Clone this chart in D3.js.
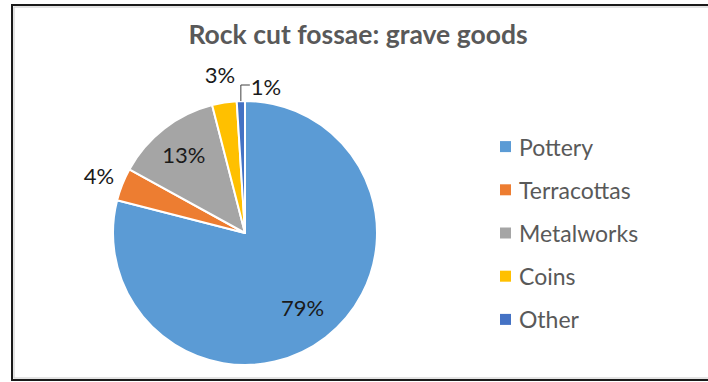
<!DOCTYPE html>
<html>
<head>
  <meta charset="utf-8">
  <style>
    body { margin: 0; background: white; font-family: Lato, "Open Sans", sans-serif; }
    svg { display: block; }
  </style>
</head>
<body>
  <svg id="chart"></svg>
  <script src="https://cdn.jsdelivr.net/npm/d3@7"></script>
  <script>
    // data
    var categories = ["Pottery", "Terracottas", "Metalworks", "Coins", "Other"];
    var shares = [79, 4, 13, 3, 1];
    var colors = ["#5B9BD5", "#ED7D31", "#A5A5A5", "#FFC000", "#4472C4"];
    var title = "Rock cut fossae: grave goods";

    var width = 708, height = 382;
    var svg = d3.select("#chart").attr("width", width).attr("height", height);

    // frame
    svg.append("rect")
      .attr("x", 12).attr("y", 5)
      .attr("width", 720).attr("height", 375)
      .attr("fill", "none").attr("stroke", "#1a1a1a").attr("stroke-width", 2);
    svg.append("rect")
      .attr("x", 14).attr("y", 7)
      .attr("width", 720).attr("height", 371)
      .attr("fill", "none").attr("stroke", "#c8c8c8").attr("stroke-width", 1);

    // title
    svg.append("text")
      .attr("x", 358).attr("y", 34)
      .attr("text-anchor", "middle")
      .attr("dominant-baseline", "central")
      .attr("font-size", 26.5).attr("font-weight", "bold")
      .attr("fill", "#595959")
      .text(title);

    var cx = 245, cy = 233, R = 132;
    var data = categories.map(function(c, i) { return { name: c, value: shares[i], color: colors[i] }; });

    var pie = d3.pie().value(function(d) { return d.value; }).sort(null);
    var arc = d3.arc().innerRadius(0).outerRadius(R);
    var arcs = pie(data);

    var g = svg.append("g").attr("transform", "translate(" + cx + "," + cy + ")");
    g.selectAll("path")
      .data(arcs)
      .join("path")
      .attr("d", arc)
      .attr("fill", function(d) { return d.data.color; })
      .attr("stroke", "white")
      .attr("stroke-width", 2)
      .attr("stroke-linejoin", "round");

    // label placement: radius along the slice's mid angle
    var labelR = { "Pottery": 94, "Terracottas": 157, "Metalworks": 100, "Coins": 160 };
    function labelPos(d) {
      var a = (d.startAngle + d.endAngle) / 2;
      var r = labelR[d.data.name];
      return [Math.sin(a) * r, -Math.cos(a) * r];
    }

    // leader line for the smallest slice
    var other = arcs[4];
    var aMid = (other.startAngle + other.endAngle) / 2;
    var edge = [Math.sin(aMid) * R, -Math.cos(aMid) * R];
    var elbowY = -R - 16, endX = edge[0] + 9;
    g.append("path")
      .attr("d", "M" + edge[0] + "," + edge[1] + "V" + elbowY + "H" + endX)
      .attr("fill", "none").attr("stroke", "#404040").attr("stroke-width", 1);

    g.selectAll("text.lbl")
      .data(arcs.slice(0, 4))
      .join("text")
      .attr("class", "lbl")
      .attr("x", function(d) { return labelPos(d)[0]; })
      .attr("y", function(d) { return labelPos(d)[1]; })
      .attr("text-anchor", "middle")
      .attr("dominant-baseline", "central")
      .attr("font-size", 22)
      .attr("fill", "#1a1a1a")
      .text(function(d) { return d.data.value + "%"; });

    g.append("text")
      .attr("x", endX + 1)
      .attr("y", elbowY + 1)
      .attr("dominant-baseline", "central")
      .attr("font-size", 22)
      .attr("fill", "#1a1a1a")
      .text(other.data.value + "%");

    // legend
    var legendY = d3.scaleBand().domain(categories).range([125, 341]);
    var legend = svg.append("g");
    var items = legend.selectAll("g")
      .data(data)
      .join("g")
      .attr("transform", function(d) { return "translate(500," + (legendY(d.name) + legendY.bandwidth() / 2) + ")"; });
    items.append("rect")
      .attr("x", 0).attr("y", -5.5)
      .attr("width", 11).attr("height", 11)
      .attr("fill", function(d) { return d.color; });
    items.append("text")
      .attr("x", 19).attr("y", 0)
      .attr("dominant-baseline", "central")
      .attr("font-size", 23)
      .attr("fill", "#595959")
      .text(function(d) { return d.name; });
  </script>
</body>
</html>
